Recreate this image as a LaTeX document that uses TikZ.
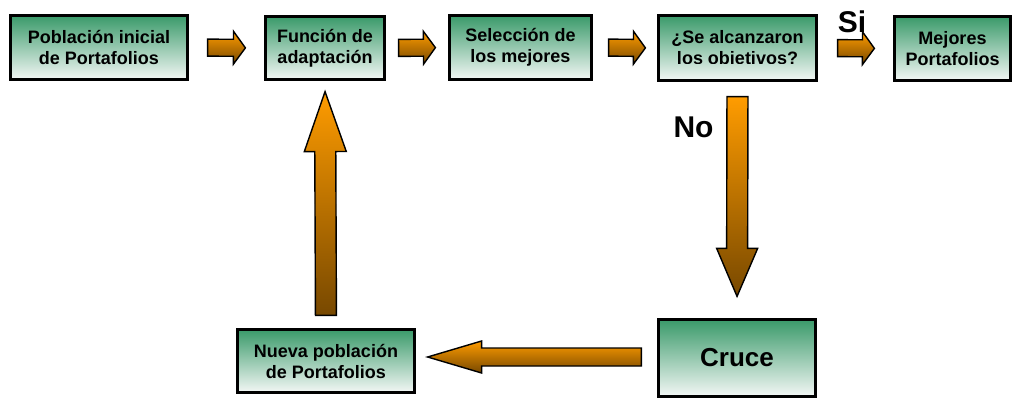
\documentclass[tikz,border=0pt]{standalone}
\usepackage{fontspec}
\setmainfont{Liberation Sans}
\usetikzlibrary{calc}
\definecolor{BoxGreen}{HTML}{3A9A6A}
\definecolor{BoxPale}{HTML}{F3F7F5}
\definecolor{ArrowOrange}{HTML}{FF9C00}
\definecolor{ArrowBrown}{HTML}{774800}
\tikzset{boxtext/.style={align=center,font=\bfseries\fontsize{18}{21}\selectfont},
stage/.style={boxtext,draw=black,line width=3.2pt,top color=BoxGreen,bottom color=BoxPale,inner sep=0pt},
fatarrow/.style={draw=black,line width=1.4pt,top color=ArrowOrange,bottom color=ArrowBrown},
tag/.style={font=\bfseries\fontsize{30}{34}\selectfont,anchor=base,inner sep=0pt}}
% #1 from, #2 to, #3/#4 gaps, #5 shaft half width, #6 head half width, #7 head length
\newcommand{\blockarrow}[7]{%
\coordinate (ba-s) at ($(#1)!#3!(#2)$);
\coordinate (ba-t) at ($(#2)!#4!(#1)$);
\coordinate (ba-c) at ($(ba-t)!#7!(ba-s)$);
\draw[fatarrow] ($(ba-s)!#5!90:(ba-t)$)--($(ba-c)!#5!90:(ba-t)$)--($(ba-c)!#6!90:(ba-t)$)--(ba-t)--($(ba-c)!#6!-90:(ba-t)$)--($(ba-c)!#5!-90:(ba-t)$)--($(ba-s)!#5!-90:(ba-t)$)--cycle;}
\begin{document}
\begin{tikzpicture}[x=1pt,y=-1pt]
\fill[white] (0,0) rectangle (1013,399); \useasboundingbox (0,0) rectangle (1013,399);
\node[stage,minimum width=176.8pt,minimum height=63.8pt] (pob) at (99,47.5){Población inicial\\de Portafolios};
\node[stage,minimum width=118.8pt,minimum height=62.8pt] (fun) at (325,48){Función de\\adaptación};
\node[stage,minimum width=141.8pt,minimum height=63.8pt] (sel) at (520.5,47.5){Selección de\\los mejores};
\node[stage,minimum width=157.8pt,minimum height=64.8pt] (obj) at (737.5,48){};
\begin{scope}\clip (650,0) rectangle (830,63.6); \node[boxtext] (objtext) at (737.5,49.5){¿Se alcanzaron\\los objetivos?};\end{scope}
\node[stage,minimum width=115.8pt,minimum height=63.8pt] (mej) at (952.5,48.5){Mejores\\Portafolios};
\node[stage,minimum width=176.8pt,minimum height=62.8pt] (nue) at (326,361){Nueva población\\de Portafolios};
\node[stage,minimum width=156.8pt,minimum height=76.8pt,font=\bfseries\fontsize{26}{30}\selectfont] (cru) at (737,358){Cruce};
\coordinate (nue-e) at (nue.east |- 0,357);
\coordinate (cru-w) at (cru.west |- 0,357);
\blockarrow{pob.east}{fun.west}{18.6pt}{18.6pt}{8.5pt}{16.5pt}{12pt}
\blockarrow{fun.east}{sel.west}{12.6pt}{12.6pt}{8.5pt}{16.5pt}{12pt}
\blockarrow{sel.east}{obj.west}{15.6pt}{11.6pt}{8.5pt}{16.5pt}{12pt}
\blockarrow{obj.east}{mej.west}{19.6pt}{18.6pt}{8.5pt}{16.5pt}{12pt}
\blockarrow{obj.south}{cru.north}{14.6pt}{21.6pt}{10.5pt}{20.5pt}{48pt}
\blockarrow{cru-w}{nue-e}{15.6pt}{11.6pt}{9pt}{16pt}{54pt}
\blockarrow{nue.north}{fun.south}{12.6pt}{10.6pt}{10.5pt}{21pt}{60pt}
\node[tag] (si) at (852,32){Si};
\node[tag] (no) at (693.5,137){No};
\end{tikzpicture}
\end{document}
